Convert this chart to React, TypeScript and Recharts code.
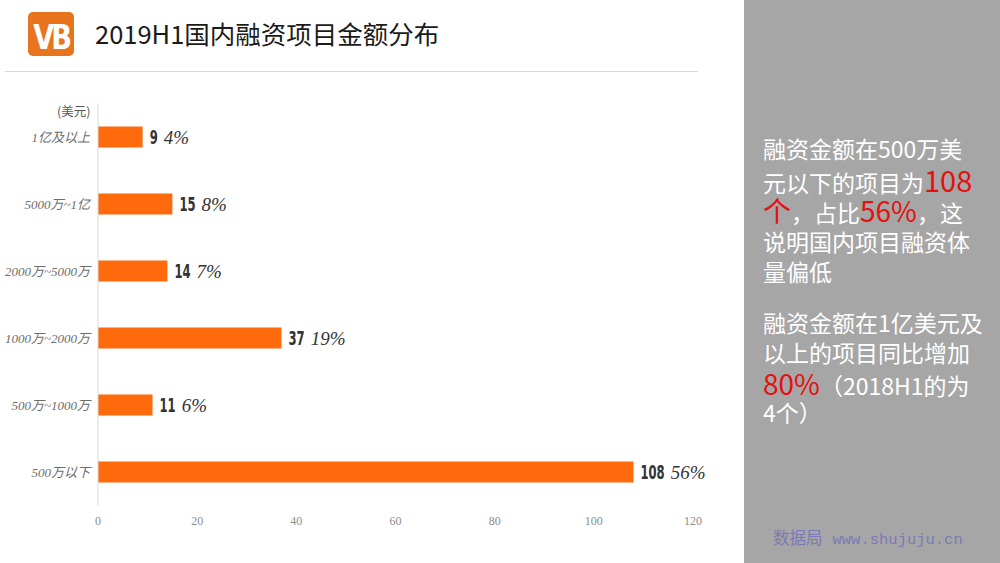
import React from "react";
import { Bar, BarChart, LabelList, XAxis, YAxis } from "recharts";

const categories = ["1亿及以上", "5000万~1亿", "2000万~5000万", "1000万~2000万", "500万~1000万", "500万以下"];
const counts = [9, 15, 14, 37, 11, 108];
const shares = ["4%", "8%", "7%", "19%", "6%", "56%"];
const xTicks = [0, 20, 40, 60, 80, 100, 120];

const data = categories.map((name, i) => ({ name, count: counts[i], share: shares[i] }));

const CJK = "'Noto Sans CJK SC', 'Noto Sans', sans-serif";
const SERIF = "'Liberation Serif', 'DejaVu Serif', 'Noto Sans CJK SC', serif";
const RED = "#e3110f";

// narrow bold digits: squeeze a bold sans horizontally
const DIGIT_W = 8.1;

function ValueLabel(props: any) {
  const { x, y, width, height, index } = props;
  const row = data[index];
  const x0 = x + width + 7;
  const cy = y + height / 2;
  const numW = String(row.count).length * DIGIT_W;
  return (
    <g>
      <text
        transform={`translate(${x0},${cy}) scale(0.58,1)`}
        dominantBaseline="central"
        fill="#333333"
        fontFamily="'DejaVu Sans', sans-serif"
        fontWeight="bold"
        fontSize={20}
      >
        {row.count}
      </text>
      <text
        x={x0 + numW + 6}
        y={cy}
        dominantBaseline="central"
        fill="#333333"
        fontFamily={SERIF}
        fontStyle="italic"
        fontSize={19}
      >
        {row.share}
      </text>
    </g>
  );
}

const red = (s: string, size = 28) => (
  <span style={{ color: RED, fontSize: size, lineHeight: "30px" }}>{s}</span>
);

export default function App() {
  const line = (top: number, content: React.ReactNode) => (
    <div
      style={{
        position: "absolute",
        left: 763,
        top,
        height: 30,
        lineHeight: "30px",
        whiteSpace: "nowrap",
        color: "#ffffff",
        fontFamily: CJK,
        fontSize: 23,
      }}
    >
      {content}
    </div>
  );

  return (
    <div
      style={{
        position: "absolute",
        left: 0,
        top: 0,
        width: 1000,
        height: 563,
        background: "#ffffff",
        overflow: "hidden",
        fontFamily: CJK,
      }}
    >
      {/* logo */}
      <svg style={{ position: "absolute", left: 28, top: 12 }} width={46} height={44}>
        <rect x={0} y={0} width={46} height={44} rx={5} fill="#e8741e" />
        <text
          transform="translate(23,37) scale(0.8,1)"
          textAnchor="middle"
          fill="#ffffff"
          fontFamily="'DejaVu Sans', sans-serif"
          fontWeight="bold"
          fontSize={34}
          letterSpacing={-4}
        >
          VB
        </text>
      </svg>
      <div
        style={{
          position: "absolute",
          left: 95,
          top: 15,
          fontSize: 25.5,
          lineHeight: "36px",
          color: "#1a1a1a",
          whiteSpace: "nowrap",
        }}
      >
        2019H1国内融资项目金额分布
      </div>
      <div style={{ position: "absolute", left: 5, top: 71, width: 693, height: 1, background: "#d9d9d9" }} />

      <div style={{ position: "absolute", left: 57, top: 101, fontSize: 12.5, color: "#595959" }}>(美元)</div>

      <div style={{ position: "absolute", left: 0, top: 0 }}>
        <BarChart
          width={744}
          height={563}
          data={data}
          layout="vertical"
          margin={{ top: 103.5, right: 51, bottom: 27.5, left: 0 }}
        >
          <XAxis
            type="number"
            domain={[0, 120]}
            ticks={xTicks}
            axisLine={false}
            tickLine={false}
            tickMargin={5}
            height={30}
            tick={{ fill: "#8c8c8c", fontSize: 12, fontFamily: SERIF }}
          />
          <YAxis
            type="category"
            dataKey="name"
            width={98}
            axisLine={{ stroke: "#d9d9d9" }}
            tickLine={false}
            tick={{ fill: "#6e6e6e", fontSize: 13, fontFamily: SERIF, fontStyle: "italic" }}
          />
          <Bar dataKey="count" fill="#ff6a0d" barSize={21} isAnimationActive={false}>
            <LabelList dataKey="count" content={ValueLabel} />
          </Bar>
        </BarChart>
      </div>

      {/* side panel */}
      <div style={{ position: "absolute", left: 744, top: 0, width: 256, height: 563, background: "#a6a6a6" }} />
      {line(133, "融资金额在500万美")}
      {line(164, <>元以下的项目为{red("108", 29)}</>)}
      {line(195, <>{red("个")}，占比{red("56%")}，这</>)}
      {line(226, "说明国内项目融资体")}
      {line(256, "量偏低")}
      {line(307, "融资金额在1亿美元及")}
      {line(337, "以上的项目同比增加")}
      {line(368, <>{red("80%")}（2018H1的为</>)}
      {line(397, "4个）")}

      <div
        style={{
          position: "absolute",
          left: 773,
          top: 526,
          whiteSpace: "nowrap",
          color: "#7b7ab8",
          fontSize: 16.5,
          lineHeight: "22px",
        }}
      >
        数据局
        <span
          style={{
            marginLeft: 10,
            fontFamily: "'Liberation Mono', 'DejaVu Sans Mono', monospace",
            fontSize: 15.5,
          }}
        >
          www.shujuju.cn
        </span>
      </div>
    </div>
  );
}
